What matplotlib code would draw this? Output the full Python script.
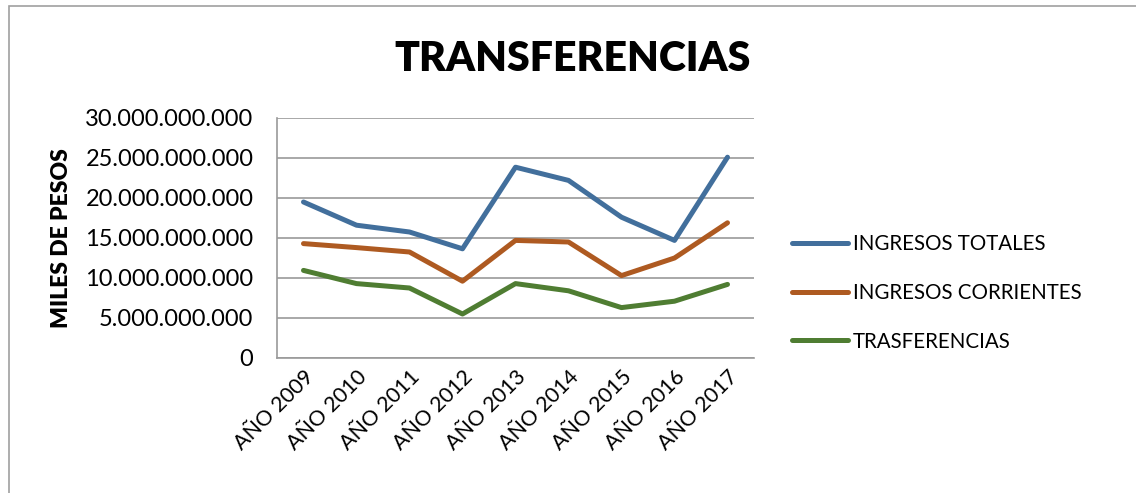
import matplotlib
matplotlib.use("Agg")
import matplotlib.pyplot as plt
from matplotlib.patches import Rectangle
from matplotlib.ticker import FuncFormatter

plt.rcParams['font.family'] = ['Lato', 'DejaVu Sans']

categories = ["AÑO 2009", "AÑO 2010", "AÑO 2011", "AÑO 2012", "AÑO 2013",
              "AÑO 2014", "AÑO 2015", "AÑO 2016", "AÑO 2017"]
ingresos_totales = [19.5e9, 16.6e9, 15.75e9, 13.65e9, 23.85e9, 22.2e9, 17.6e9, 14.7e9, 25.1e9]
ingresos_corrientes = [14.3e9, 13.8e9, 13.25e9, 9.6e9, 14.7e9, 14.5e9, 10.3e9, 12.5e9, 16.9e9]
trasferencias = [10.95e9, 9.3e9, 8.75e9, 5.5e9, 9.3e9, 8.4e9, 6.3e9, 7.1e9, 9.2e9]
series_names = ["INGRESOS TOTALES", "INGRESOS CORRIENTES", "TRASFERENCIAS"]
y_ticks = [0, 5e9, 10e9, 15e9, 20e9, 25e9, 30e9]

colors = ['#426F9C', '#AE5A21', '#4F7D32']

fig = plt.figure(figsize=(11.36, 4.93), dpi=100)
W, H = 1136, 493
ax = fig.add_axes([277 / W, 1 - 358 / H, (754 - 277) / W, (358 - 118) / H])

x = list(range(len(categories)))
for vals, name, c in zip([ingresos_totales, ingresos_corrientes, trasferencias], series_names, colors):
    ax.plot(x, vals, color=c, lw=3.6, label=name, solid_capstyle='round', solid_joinstyle='round')

ax.set_xlim(-0.5, len(categories) - 0.5)
ax.set_ylim(0, 30e9)
ax.set_yticks(y_ticks)
ax.yaxis.set_major_formatter(FuncFormatter(lambda v, p: f"{int(v):,}".replace(",", ".")))
ax.set_xticks(x)
ax.set_xticklabels(categories, rotation=45, ha='right', va='top', rotation_mode='anchor')
ax.tick_params(axis='both', length=0, colors='black')
ax.tick_params(axis='y', pad=17, labelsize=17)
ax.tick_params(axis='x', pad=6, labelsize=15.5)
ax.grid(axis='y', color='#9A9A9A', lw=1.2)
ax.set_axisbelow(True)
for s in ['top', 'right']:
    ax.spines[s].set_visible(False)
for s in ['left', 'bottom']:
    ax.spines[s].set_color('#9A9A9A')
    ax.spines[s].set_linewidth(1.2)

fig.text(62 / W, 1 - 238 / H, "MILES DE PESOS", rotation=90, ha='center', va='center',
         fontsize=16.5, fontweight='heavy')
fig.text(573 / W, 1 - 59 / H, "TRANSFERENCIAS", ha='center', va='center',
         fontsize=29.5, fontweight='heavy')

leg = fig.legend(loc='upper left', bbox_to_anchor=(792 / W, 1 - 234 / H), frameon=False,
                 fontsize=14.8, handlelength=2.7, handletextpad=0.25, labelspacing=1.4,
                 borderpad=0, borderaxespad=0)

fig.patches.append(Rectangle((9 / W, -0.1), 1.2, 1 - 6 / H + 0.1, transform=fig.transFigure,
                             fill=False, edgecolor='#A0A0A0', lw=1.2))

fig.savefig("out.png", dpi=100)
